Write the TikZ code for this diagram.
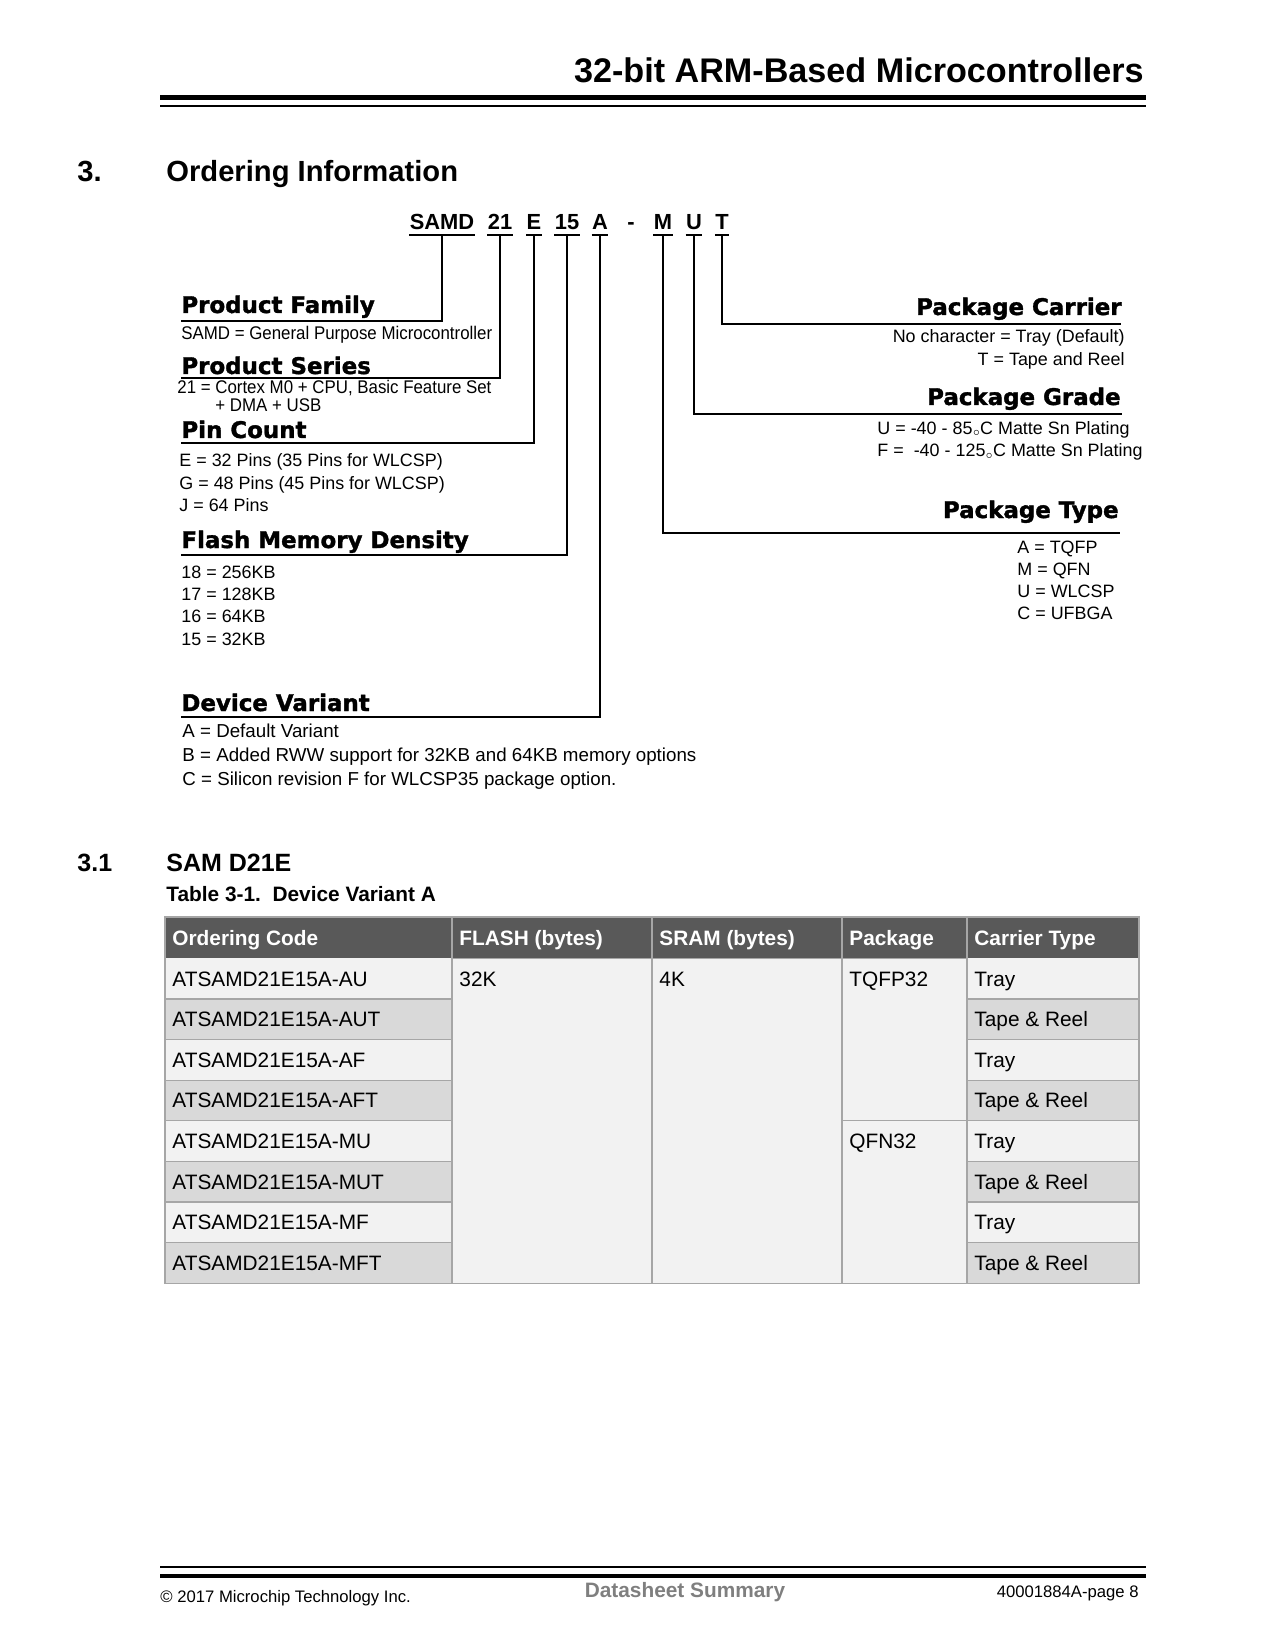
\documentclass[tikz,border=0pt]{standalone}
\usepackage{fontspec}
\setmainfont{Liberation Sans}
\newfontfamily\blackfont[BoldFeatures={FakeBold=1.5}]{DejaVu Sans}
\newfontfamily\narrowfont[FakeStretch=0.92]{Liberation Sans}
\usetikzlibrary{positioning}
\definecolor{hdrgray}{HTML}{595959}
\definecolor{rowlight}{HTML}{F2F2F2}
\definecolor{rowdark}{HTML}{D9D9D9}
\definecolor{gridgray}{HTML}{A6A6A6}
\definecolor{footgray}{HTML}{7F7F7F}
\newcommand{\degsym}{\raisebox{-0.15ex}{$\scriptscriptstyle\circ$}}

\begin{document}
\begin{tikzpicture}[x=0.48pt,y=-0.48pt,
  every node/.style={inner sep=0pt},
  code/.style={anchor=base,inner ysep=2.4pt,text depth=0pt,font=\bfseries\fontsize{10.5}{12}\selectfont},
  uline/.style={line width=1pt},
  lead/.style={line width=0.7pt},
  fieldL/.style={anchor=base west,font=\blackfont\bfseries\fontsize{11}{13}\selectfont},
  fieldR/.style={anchor=base east,font=\blackfont\bfseries\fontsize{11}{13}\selectfont},
  desc/.style={anchor=base west,font=\fontsize{8.6}{10}\selectfont},
  descR/.style={anchor=base east,font=\fontsize{8.6}{10}\selectfont},
  ndesc/.style={anchor=base west,font=\narrowfont\fontsize{8.8}{10}\selectfont},
  vdesc/.style={anchor=base west,font=\fontsize{9}{11}\selectfont},
  thead/.style={anchor=base west,text=white,font=\bfseries\fontsize{10}{12}\selectfont},
  tcell/.style={anchor=base west,font=\fontsize{10}{12}\selectfont},
  grid/.style={draw=gridgray,line width=0.5pt}]
  \useasboundingbox (0,0) rectangle (1275,1650);

  % page header
  \node[anchor=base east,font=\bfseries\fontsize{16.4}{19}\selectfont] (title) at (1144,83) {32-bit ARM-Based Microcontrollers};
  \draw[line width=2.4pt] (160,97.5) -- (1146,97.5);
  \draw[line width=1.1pt] (160,106) -- (1146,106);

  \node[anchor=base west,font=\bfseries\fontsize{14}{17}\selectfont] (secnum) at (77,182) {3.};
  \node[anchor=base west,font=\bfseries\fontsize{14}{17}\selectfont] (sec) at (166,182) {Ordering Information};

  % part number
  \node[code] (samd) at (442,230) {SAMD};
  \node[code] (ser) at (500,230) {21};
  \node[code] (pins) at (534,230) {E};
  \node[code] (flash) at (567,230) {15};
  \node[code] (var) at (600,230) {A};
  \node[code] (dash) at (631,230) {-};
  \node[code] (ptype) at (663,230) {M};
  \node[code] (grade) at (694,230) {U};
  \node[code] (carr) at (722,230) {T};
  \foreach \n in {samd,ser,pins,flash,var,ptype,grade,carr}
    \draw[uline] (\n.south west) -- (\n.south east);

  % left fields
  \node[fieldL] (pfam) at (181,313) {Product Family};
  \node[ndesc] (pfamD) at (181,340) {SAMD = General Purpose Microcontroller};
  \node[fieldL] (pser) at (181,374) {Product Series};
  \node[ndesc] (pserD1) at (177,394) {21 = Cortex M0 + CPU, Basic Feature Set};
  \node[ndesc] (pserD2) at (215,412) {+ DMA + USB};
  \node[fieldL] (pcnt) at (181,438) {Pin Count};
  \foreach \t [count=\i] in {{E = 32 Pins (35 Pins for WLCSP)},{G = 48 Pins (45 Pins for WLCSP)},{J = 64 Pins}}
    \node[desc] (pcnt\i) at (179,{467+22*(\i-1)}) {\t};
  \node[fieldL] (fmd) at (181,548) {Flash Memory Density};
  \foreach \t [count=\i] in {{18 = 256KB},{17 = 128KB},{16 = 64KB},{15 = 32KB}}
    \node[desc] (fmd\i) at (181,{578+22.4*(\i-1)}) {\t};
  \node[fieldL] (dvar) at (181,711) {Device Variant};
  \foreach \t [count=\i] in {{A = Default Variant},{B = Added RWW support for 32KB and 64KB memory options},{C = Silicon revision F for WLCSP35 package option.}}
    \node[vdesc] (dvar\i) at (182,{737+24*(\i-1)}) {\t};

  % right fields
  \node[fieldR] (pcar) at (1122,315) {Package Carrier};
  \node[descR] (pcar1) at (1125,343) {No character = Tray (Default)};
  \node[descR] (pcar2) at (1125,366) {T = Tape and Reel};
  \node[fieldR] (pgr) at (1121,405) {Package Grade};
  \node[desc] (pgr1) at (877,434) {U = -40 - 85\degsym C Matte Sn Plating};
  \node[desc] (pgr2) at (877,457) {F =\ \ -40 - 125\degsym C Matte Sn Plating};
  \node[fieldR] (ptyp) at (1119,518) {Package Type};
  \foreach \t [count=\i] in {{A = TQFP},{M = QFN},{U = WLCSP},{C = UFBGA}}
    \node[desc] (ptyp\i) at (1017,{553+22.3*(\i-1)}) {\t};

  \coordinate (pfamE) at (181,321);
  \coordinate (pserE) at (181,378);
  \coordinate (pcntE) at (181,443);
  \coordinate (fmdE) at (181,555);
  \coordinate (dvarE) at (181,717);
  \coordinate (pcarE) at (1121,324);
  \coordinate (pgrE) at (1122,414);
  \coordinate (ptypE) at (1120,533);
  \draw[lead,line width=0.5pt] (samd.south) |- (pfamE);
  \draw[lead,line width=0.6pt] (ser.south) |- (pserE);
  \draw[lead] (pins.south) |- (pcntE);
  \draw[lead,line width=0.9pt] (flash.south) |- (fmdE);
  \draw[lead,line width=0.9pt] (var.south) |- (dvarE);
  \draw[lead] (ptype.south) |- (ptypE);
  \draw[lead] (grade.south) |- (pgrE);
  \draw[lead,line width=0.8pt] (carr.south) |- (pcarE);

  % section 3.1 and table
  \node[anchor=base west,font=\bfseries\fontsize{12}{14}\selectfont] (subnum) at (77,871) {3.1};
  \node[anchor=base west,font=\bfseries\fontsize{12}{14}\selectfont] (sub) at (166,871) {SAM D21E};
  \node[anchor=base west,font=\bfseries\fontsize{10}{12}\selectfont] (tcap) at (166,901) {Table 3-1.\ \ Device Variant A};

  \fill[hdrgray] (165,917) rectangle (1139,958.4);
  \fill[rowlight] (452,958.4) rectangle (967,1283.2);
  \foreach \i in {1,...,8} {
    \ifodd\i \def\rc{rowlight}\else \def\rc{rowdark}\fi
    \fill[\rc] (165,{958.4+40.6*(\i-1)}) rectangle (452,{958.4+40.6*\i});
    \fill[\rc] (967,{958.4+40.6*(\i-1)}) rectangle (1139,{958.4+40.6*\i});
  }
  \foreach \x in {452,652,842,967}
    \draw[grid] (\x,917) -- (\x,1283.2);
  \foreach \i in {1,...,7} {
    \draw[grid] (165,{958.4+40.6*\i}) -- (452,{958.4+40.6*\i});
    \draw[grid] (967,{958.4+40.6*\i}) -- (1139,{958.4+40.6*\i});
  }
  \draw[grid] (452,958.4) -- (967,958.4);
  \draw[grid] (842,1120.8) -- (967,1120.8);
  \draw[grid] (165,917) rectangle (1139,1283.2);

  \foreach \t/\x [count=\i] in {Ordering Code/172,FLASH (bytes)/459,SRAM (bytes)/659,Package/849,Carrier Type/974}
    \node[thead] (th\i) at (\x,945) {\t};
  \foreach \c [count=\i] in {AU,AUT,AF,AFT,MU,MUT,MF,MFT}
    \node[tcell] (oc\i) at (172,{986+40.6*(\i-1)}) {ATSAMD21E15A-\c};
  \foreach \c [count=\i] in {Tray,Tape \& Reel,Tray,Tape \& Reel,Tray,Tape \& Reel,Tray,Tape \& Reel}
    \node[tcell] (ct\i) at (974,{986+40.6*(\i-1)}) {\c};
  \node[tcell] (fl1) at (459,986) {32K};
  \node[tcell] (sr1) at (659,986) {4K};
  \node[tcell] (pk1) at (849,986) {TQFP32};
  \node[tcell] (pk5) at (849,1148.4) {QFN32};

  % page footer
  \draw[line width=1.2pt] (160,1567) -- (1146,1567);
  \draw[line width=2.2pt] (160,1576) -- (1146,1576);
  \node[anchor=base west,font=\fontsize{8}{10}\selectfont] (copy) at (160,1602) {\textcopyright{} 2017 Microchip Technology Inc.};
  \node[anchor=base,text=footgray,font=\bfseries\fontsize{10}{12}\selectfont] (doc) at (685,1597) {Datasheet Summary};
  \node[anchor=base east,font=\fontsize{8}{10}\selectfont] (pg) at (1139,1597) {40001884A-page 8};
\end{tikzpicture}
\end{document}
